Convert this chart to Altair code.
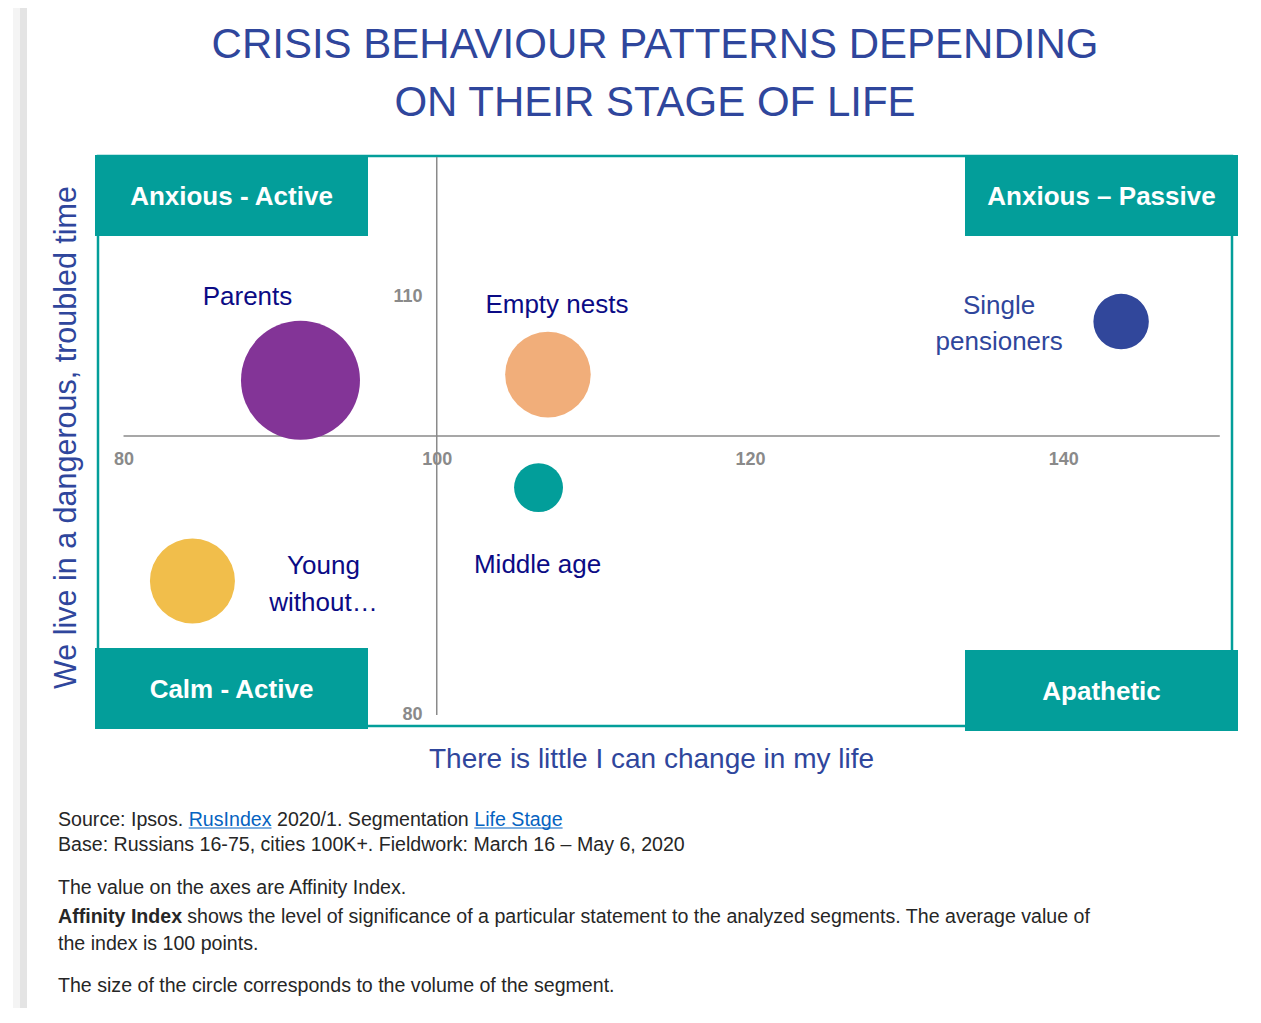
import altair as alt
import pandas as pd

# ---------------- data ----------------
segments = ["Parents", "Empty nests", "Single pensioners", "Middle age", "Young without…"]
labels = ["Parents", "Empty nests", "Single\npensioners", "Middle age", "Young\nwithout…"]
little_change_index = [91.3, 107.1, 143.7, 106.5, 84.4]      # x: There is little I can change in my life
dangerous_time_index = [104.0, 104.4, 108.2, 96.3, 89.6]     # y: We live in a dangerous, troubled time
segment_volume = [29.0, 15.0, 6.3, 4.9, 14.8]                # bubble size
segment_colors = ["#833497", "#F1AE7A", "#31479B", "#029E9A", "#F1BE4B"]

x_ticks = [80, 100, 120, 140]
y_ticks = [80, 110]
x_axis_line = {"x": [80], "x2": [150], "y": [100]}
y_axis_line = {"x": [100], "y": [80], "y2": [120]}

quadrants = ["Anxious - Active", "Anxious \u2013 Passive", "Calm - Active", "Apathetic"]

title_lines = ["CRISIS BEHAVIOUR PATTERNS DEPENDING", "ON THEIR STAGE OF LIFE"]
x_title = "There is little I can change in my life"
y_title = "We live in a dangerous, troubled time"

# ---------------- style ----------------
FONT = "Liberation Sans, Arial, sans-serif"
TEAL = "#039E9A"
BLUE = "#2F469C"
NAVY = "#0B0B85"
GREY = "#8A8A8A"
TXT = "#262626"
LINK = "#0563C1"

W, H = 1134, 570
X_DOM = [78.37, 150.78]
Y_DOM = [79.21, 120.07]

points = pd.DataFrame({
    "segment": segments,
    "label": labels,
    "x": little_change_index,
    "y": dangerous_time_index,
    "volume": segment_volume,
})


def xenc(field="x"):
    return alt.X(
        f"{field}:Q",
        scale=alt.Scale(domain=X_DOM, nice=False, zero=False),
        axis=alt.Axis(
            values=x_ticks, domain=False, ticks=False, tickSize=0, grid=False,
            labelFont=FONT, labelFontSize=18, labelFontWeight="bold", labelColor=GREY,
            labelPadding=14, labelFlush=False, labelOverlap=False, offset=-290,
            title=x_title, titleFont=FONT, titleFontSize=28, titleFontWeight="normal",
            titleColor=BLUE, titleX=553, titleY=331, titleAlign="center",
            titleBaseline="alphabetic",
        ),
    )


def yenc(field="y"):
    return alt.Y(
        f"{field}:Q",
        scale=alt.Scale(domain=Y_DOM, nice=False, zero=False),
        axis=alt.Axis(
            values=y_ticks, domain=False, ticks=False, tickSize=0, grid=False,
            labelFont=FONT, labelFontSize=18, labelFontWeight="bold", labelColor=GREY,
            labelPadding=16, labelFlush=False, labelOverlap=False, offset=-340,
            title=y_title, titleFont=FONT, titleFontSize=30.5, titleFontWeight="normal",
            titleColor=BLUE, titleAngle=-90, titleX=-363, titleY=281,
            titleAlign="center", titleBaseline="alphabetic",
        ),
    )


layers = []

# left shadow of the card
shadow_df = pd.DataFrame({"k": [0]})
layers.append(alt.Chart(shadow_df).mark_rect(color="#F4F4F4").encode(
    x=alt.value(-85), x2=alt.value(-78), y=alt.value(-148), y2=alt.value(852)))
layers.append(alt.Chart(shadow_df).mark_rect(color="#E4E4E4").encode(
    x=alt.value(-78), x2=alt.value(-71), y=alt.value(-148), y2=alt.value(852)))

# axis cross lines
layers.append(alt.Chart(pd.DataFrame(x_axis_line)).mark_rule(color=GREY, strokeWidth=1.5).encode(
    x=xenc("x"), x2="x2:Q", y=yenc("y")))
layers.append(alt.Chart(pd.DataFrame(y_axis_line)).mark_rule(color=GREY, strokeWidth=1.5).encode(
    x=xenc("x"), y=yenc("y"), y2="y2:Q"))

# bubbles
layers.append(alt.Chart(points).mark_circle(opacity=1).encode(
    x=xenc(), y=yenc(),
    size=alt.Size("volume:Q", scale=alt.Scale(domain=[0, 29], range=[0, 14161], zero=True), legend=None),
    color=alt.Color("segment:N", scale=alt.Scale(domain=segments, range=segment_colors), legend=None),
))

# bubble labels (offset from their bubble)
label_style = {
    "Parents": (-53, -83, NAVY),
    "Empty nests": (9, -70, NAVY),
    "Single pensioners": (-122, -16, BLUE),
    "Middle age": (-1, 77, NAVY),
    "Young without…": (131, -15, NAVY),
}
for seg in segments:
    dx, dy, col = label_style[seg]
    layers.append(alt.Chart(points).transform_filter(alt.datum.segment == seg).mark_text(
        font=FONT, fontSize=26, color=col, align="center", baseline="middle",
        lineBreak="\n", lineHeight=36.5, dx=dx, dy=dy,
    ).encode(x=xenc(), y=yenc(), text="label:N"))

# quadrant label boxes
quad_boxes = {
    quadrants[0]: (-3, 270, -1, 80),
    quadrants[1]: (867, 1140, -1, 80),
    quadrants[2]: (-3, 270, 492, 573),
    quadrants[3]: (867, 1140, 494, 575),
}
for q in quadrants:
    x1, x2, y1, y2 = quad_boxes[q]
    qdf = pd.DataFrame({"quadrant": [q]})
    layers.append(alt.Chart(qdf).mark_rect(color=TEAL).encode(
        x=alt.value(x1), x2=alt.value(x2), y=alt.value(y1), y2=alt.value(y2)))
    layers.append(alt.Chart(qdf).mark_text(
        font=FONT, fontSize=26, fontWeight="bold", color="white",
        align="center", baseline="middle",
    ).encode(x=alt.value((x1 + x2) / 2), y=alt.value((y1 + y2) / 2 + 1.5), text="quadrant:N"))

# footnotes
foot_lines = [
    ["Source: Ipsos.", "RusIndex", "2020/1. Segmentation", "Life Stage"],
    ["Base: Russians 16-75, cities 100K+. Fieldwork: March 16 \u2013 May 6, 2020"],
    ["The value on the axes are Affinity Index."],
    ["Affinity Index", "shows the level of significance of a particular statement to the analyzed segments. The average value of"],
    ["the index is 100 points."],
    ["The size of the circle corresponds to the volume of the segment."],
]
foot_y = [669.7, 695, 738.3, 767.3, 794, 835.7]
foot_x = [[-40, 90.7, 179.0, 376.3], [-40], [-40], [-40, 89.3], [-40], [-40]]
foot_fmt = [["n", "link", "n", "link"], ["n"], ["n"], ["bold", "n"], ["n"], ["n"]]

for li, segs in enumerate(foot_lines):
    for si, s in enumerate(segs):
        fmt = foot_fmt[li][si]
        fdf = pd.DataFrame({"note": [s]})
        layers.append(alt.Chart(fdf).mark_text(
            font=FONT, fontSize=19.6, align="left", baseline="alphabetic",
            color=LINK if fmt == "link" else TXT,
            fontWeight="bold" if fmt == "bold" else "normal",
        ).encode(x=alt.value(foot_x[li][si]), y=alt.value(foot_y[li]), text="note:N"))

# link underlines
for (ux1, ux2) in [(90.7, 173.5), (376.3, 464.6)]:
    layers.append(alt.Chart(shadow_df).mark_rule(color=LINK, strokeWidth=1.2).encode(
        x=alt.value(ux1), x2=alt.value(ux2), y=alt.value(672)))

chart = alt.layer(*layers).properties(
    width=W, height=H,
    autosize=alt.AutoSizeParams(type="none"),
    padding={"left": 90, "top": 148, "right": 21, "bottom": 282},
    background="white",
    title=alt.TitleParams(
        text=title_lines, font=FONT, fontSize=42, fontWeight="normal", color=BLUE,
        lineHeight=57.5, anchor="middle", frame="group", dx=-10, offset=-149.5,
        baseline="alphabetic",
    ),
).configure_view(stroke=TEAL, strokeWidth=2.5)

chart.save("out.html", embed_options={"renderer": "svg", "actions": False})
